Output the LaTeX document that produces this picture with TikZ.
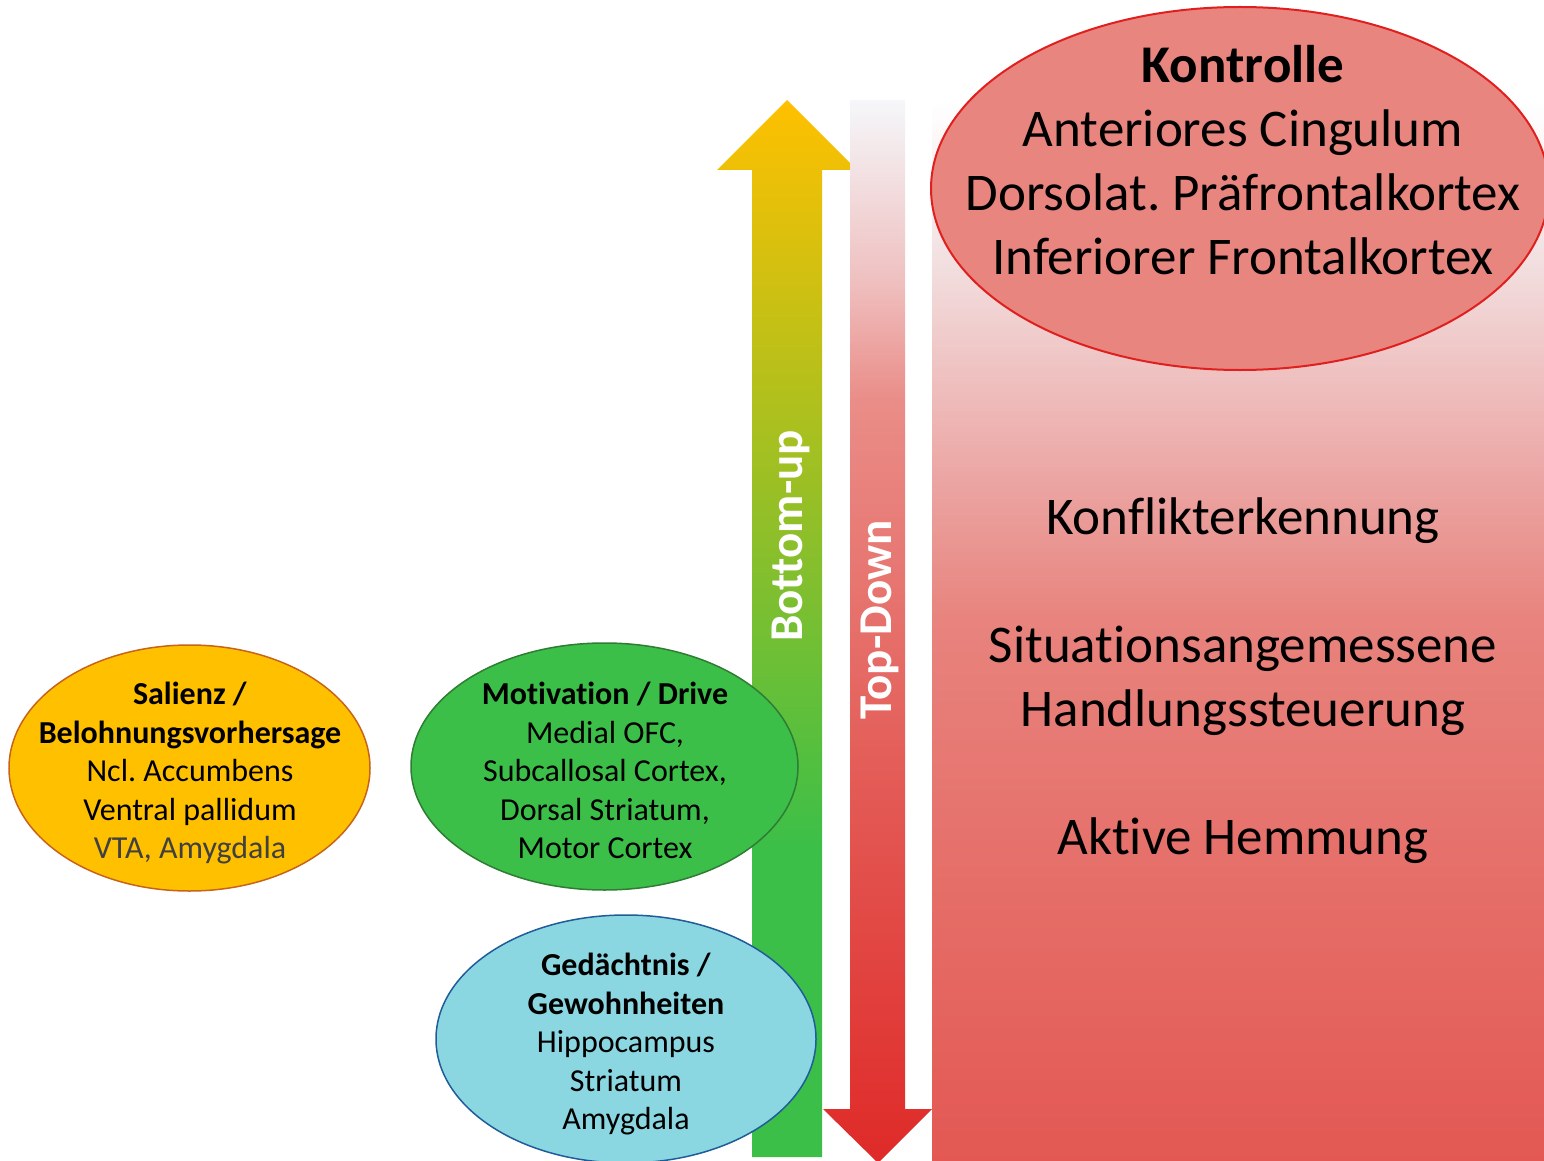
\documentclass[tikz,border=0pt]{standalone}
\usepackage{fontspec}
\setmainfont{Carlito}[Ligatures={NoCommon}]
\frenchspacing
\usetikzlibrary{shapes.geometric}
\definecolor{gA}{HTML}{3BBF48}
\definecolor{gB}{HTML}{FFC000}
\definecolor{rA}{HTML}{DF2A28}
\definecolor{rB}{HTML}{E4605B}
\definecolor{rC}{HTML}{EA8D88}
\definecolor{rD}{HTML}{EFC0C0}
\definecolor{rE}{HTML}{F5F7FA}
\definecolor{qA}{HTML}{E35853}
\definecolor{qB}{HTML}{E8837D}
\definecolor{qC}{HTML}{EBA5A3}
\definecolor{qD}{HTML}{F3E2E3}
\definecolor{salfill}{HTML}{FFC000}
\definecolor{saldraw}{HTML}{C8641A}
\definecolor{motfill}{HTML}{3BBF48}
\definecolor{motdraw}{HTML}{2E7D32}
\definecolor{gedfill}{HTML}{8AD7E2}
\definecolor{geddraw}{HTML}{1F5C99}
\definecolor{konfill}{HTML}{E8857E}
\definecolor{kondraw}{HTML}{E0201E}
\definecolor{darkgray}{HTML}{404040}
\pgfdeclareverticalshading{greenshade}{100bp}{color(0bp)=(gA); color(25bp)=(gA); color(39.5bp)=(gA); color(75bp)=(gB); color(100bp)=(gB)}
\pgfdeclareverticalshading{redshade}{100bp}{color(0bp)=(rA); color(25bp)=(rA); color(44.8bp)=(rB); color(60.9bp)=(rC); color(66.5bp)=(rD); color(75bp)=(rE); color(100bp)=(rE)}
\pgfdeclareverticalshading{rectshade}{100bp}{color(0bp)=(qA); color(25bp)=(qA); color(50.5bp)=(qB); color(57.1bp)=(qC); color(67.9bp)=(qD); color(75bp)=(white); color(100bp)=(white)}
\tikzset{
  oval/.style={ellipse, inner sep=0pt, line width=1.5pt},
  smalltext/.style={align=center, inner sep=0pt, font=\fontsize{32}{38.5}\selectfont},
  bigtext/.style={align=center, inner sep=0pt, font=\fontsize{53}{64}\selectfont},
  vertlabel/.style={rotate=90, inner sep=0pt, text=white, font=\bfseries\fontsize{47}{56}\selectfont}
}
\begin{document}
\begin{tikzpicture}[x=1pt,y=-1pt]
\useasboundingbox (0,0) rectangle (1544,1161);
\clip (0,0) rectangle (1544,1161);
% right panel
\path[shading=rectshade] (932,100) rectangle (1544,1161);
\node[oval, draw=kondraw, fill=konfill, line width=2pt, minimum width=618pt, minimum height=363pt] (kon) at (1240,188.5) {};
\node[bigtext] (kontext) at (1243,160) {\textbf{Kontrolle}\\Anteriores Cingulum\\Dorsolat. Präfrontalkortex\\Inferiorer Frontalkortex};
\node[bigtext] (konf) at (1243,521) {Konflikterkennung};
\node[bigtext] (sit) at (1243,681) {Situationsangemessene\\Handlungssteuerung};
\node[bigtext] (hemm) at (1243,841) {Aktive Hemmung};
% bottom-up arrow
\path[shading=greenshade] (752,1157) -- (752,170) -- (717,170) -- (787,100) -- (857,170) -- (822,170) -- (822,1157) -- cycle;
% top-down arrow
\path[shading=redshade] (850,100) -- (905,100) -- (905,1109) -- (932,1109) -- (878,1163) -- (823,1109) -- (850,1109) -- cycle;
\node[vertlabel] (bu) at (791,536) {Bottom-up};
\node[vertlabel] (td) at (880,620) {Top-Down};
% ellipses
\node[oval, draw=saldraw, fill=salfill, minimum width=361pt, minimum height=246pt] (sal) at (189.5,768) {};
\node[smalltext] (saltext) at (190,773.5) {\textbf{Salienz /}\\\textbf{Belohnungsvorhersage}\\Ncl. Accumbens\\Ventral pallidum\\\textcolor{darkgray}{VTA, Amygdala}};
\node[oval, draw=motdraw, fill=motfill, minimum width=387pt, minimum height=247pt] (mot) at (604.5,766.5) {};
\node[smalltext] (mottext) at (605,770.5) {\textbf{Motivation / Drive}\\Medial OFC,\\Subcallosal Cortex,\\Dorsal Striatum,\\Motor Cortex};
\node[oval, draw=geddraw, fill=gedfill, minimum width=380pt, minimum height=248pt] (ged) at (626,1039) {};
\node[smalltext] (gedtext) at (626,1044.5) {\textbf{Gedächtnis /}\\\textbf{Gewohnheiten}\\Hippocampus\\Striatum\\Amygdala};
\end{tikzpicture}
\end{document}
